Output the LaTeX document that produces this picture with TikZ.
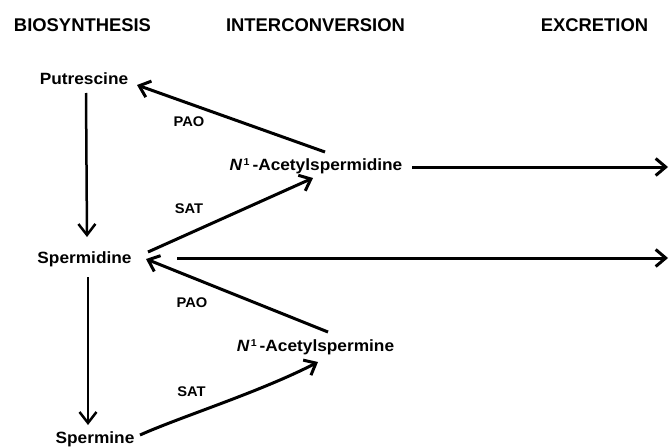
\documentclass[tikz,border=0pt]{standalone}
\usepackage{fontspec}
\setmainfont{Liberation Sans}
\newfontfamily\labfont[FakeStretch=1.06]{Liberation Sans}
\newfontfamily\smfont[FakeStretch=1.05]{Liberation Sans}
\newcommand{\supone}{\hspace{1.5pt}\raisebox{5.5pt}{\fontsize{10}{10}\selectfont 1}\hspace{3pt}}
\usetikzlibrary{arrows.meta}
\begin{document}
\begin{tikzpicture}[x=1pt,y=-1pt,
  title/.style={anchor=base,inner sep=0pt,font=\bfseries\fontsize{18.4}{22}\selectfont},
  comp/.style={anchor=base,inner sep=0pt,font=\labfont\bfseries\fontsize{16.3}{20}\selectfont},
  enz/.style={anchor=base,inner sep=0pt,font=\smfont\bfseries\fontsize{14}{17}\selectfont},
  rx/.style={line width=3pt,-{Straight Barb[length=10pt,width=17pt,line width=3pt]}},
  vrx/.style={line width=2.5pt,-{Straight Barb[length=11pt,width=17pt,line width=2.5pt]}}]
\useasboundingbox (0,0) rectangle (671,447);
% column headings
\node[title] (bio) at (82.5,31) {BIOSYNTHESIS};
\node[title] (inter) at (315.5,31) {INTERCONVERSION};
\node[title] (excr) at (594.5,31) {EXCRETION};
% compounds
\node[comp] (putr) at (84,84) {Putrescine};
\node[comp] (sperd) at (84.5,263) {Spermidine};
\node[comp] (sperm) at (95,443) {Spermine};
\node[comp] (acspd) at (316,170.5) {{\itshape N}\supone-Acetylspermidine};
\node[comp] (acspm) at (315.5,351.5) {{\itshape N}\supone-Acetylspermine};
% enzymes
\node[enz] (pao1) at (189,126.5) {PAO};
\node[enz] (sat1) at (189,213.5) {SAT};
\node[enz] (pao2) at (192,307) {PAO};
\node[enz] (sat2) at (191.5,396) {SAT};
% free ends (excretion)
\coordinate (out1) at (668,167);
\coordinate (out2) at (668,258);
% connectors
\draw[vrx] ([shift={(2,9)}]putr.base) -- ([shift={(2.5,-26)}]sperd.base);
\draw[vrx] ([shift={(3.5,14)}]sperd.base) -- ([shift={(-7,-18)}]sperm.base);
\draw[rx] ([shift={(9,-18.5)}]acspd.base) -- ([shift={(53,1)}]putr.base);
\draw[rx] ([shift={(63.5,-11)}]sperd.base) -- ([shift={(-3,7.5)}]acspd.base);
\draw[rx] ([shift={(12.5,-19.5)}]acspm.base) -- ([shift={(61.5,-4)}]sperd.base);
\draw[rx] ([shift={(45,-8)}]sperm.base) .. controls (180,417) and (260,392) .. ([shift={(2.5,10.5)}]acspm.base);
\draw[rx] ([shift={(96,-3.5)}]acspd.base) -- (out1);
\draw[rx] ([shift={(92.5,-5)}]sperd.base) -- (out2);
\end{tikzpicture}
\end{document}
